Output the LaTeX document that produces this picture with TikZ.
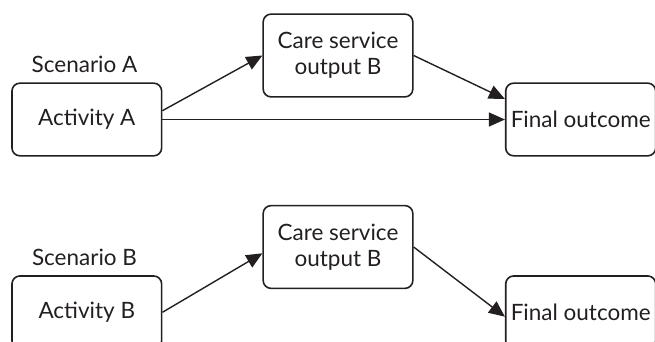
\documentclass[tikz,border=0pt]{standalone}
\usepackage{fontspec}
\setmainfont{Lato}
\usetikzlibrary{arrows.meta}
\definecolor{ink}{HTML}{231F20}
\tikzset{
  box/.style={draw=ink, line width=1.6pt, rounded corners=8pt, text=ink,
    minimum width=149.7pt, inner sep=0pt, align=center,
    font=\fontsize{22.5}{26}\selectfont},
  actbox/.style={box, minimum height=72.7pt},
  carebox/.style={box, minimum height=82.8pt},
  caption/.style={text=ink, inner sep=0pt, anchor=base,
    font=\fontsize{22.5}{26}\selectfont},
  link/.style={draw=ink, line width=1.4pt, -{Triangle[length=16pt,width=14pt]}}
}
\begin{document}
\begin{tikzpicture}[x=1pt, y=-1pt]
  \useasboundingbox (0,0) rectangle (655,342);
  \clip (0,0) rectangle (655,342);

  % Scenario A
  \node[caption] (scenA) at (84.5,72.7) {Scenario A};
  \node[actbox]  (actA)  at (86.8,119.5) {Activity A};
  \node[carebox] (careA) at (338,55.5) {Care service\\output B};
  \node[actbox, minimum width=150pt] (finA) at (580.7,119.5) {Final outcome};

  \draw[link] ([yshift=8.8pt]actA.east) -- (careA.west);
  \draw[link] (careA.east) -- ([yshift=20.5pt]finA.west);
  \draw[link] (actA.east) -- (finA.west);

  % Scenario B
  \node[caption] (scenB) at (84.5,265) {Scenario B};
  \node[actbox]  (actB)  at (86.8,312.3) {Activity B};
  \node[carebox] (careB) at (338,247) {Care service\\output B};
  \node[actbox, minimum width=150pt] (finB) at (580.7,312.3) {Final outcome};

  \draw[link] (actB.east) -- ([yshift=-6.3pt]careB.west);
  \draw[link] (careB.east) -- ([yshift=-4.4pt]finB.west);
\end{tikzpicture}
\end{document}
